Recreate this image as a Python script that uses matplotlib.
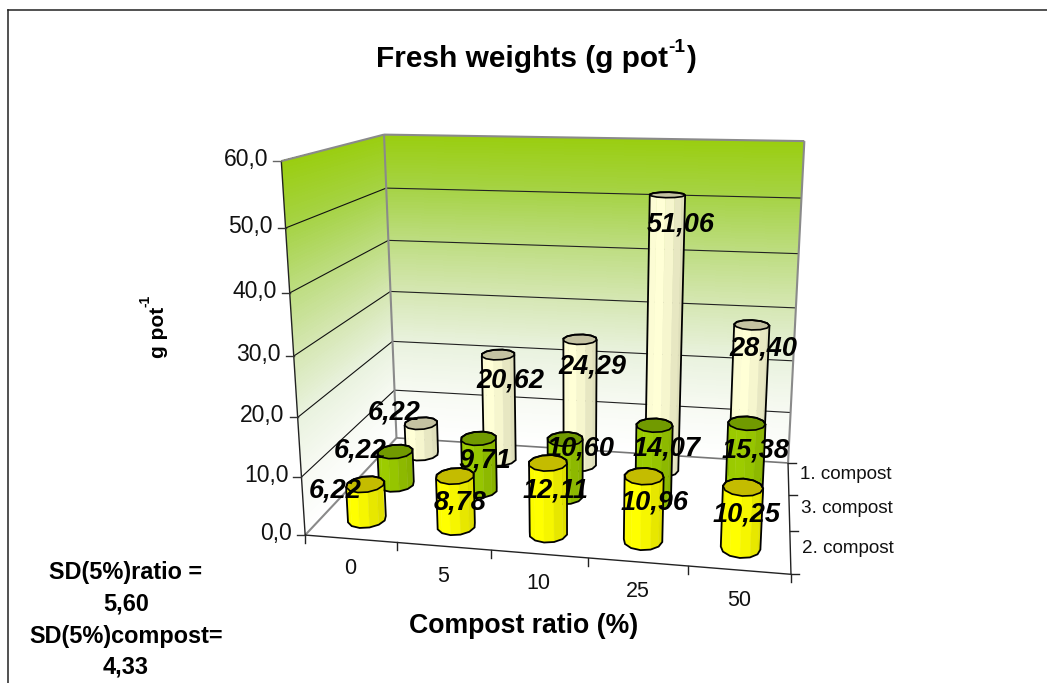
import numpy as np
import matplotlib
matplotlib.use('Agg')
import matplotlib.pyplot as plt
from matplotlib.patches import Polygon

plt.rcParams['font.family'] = ['Liberation Sans', 'DejaVu Sans']

# ----------------------------
# Data
# ----------------------------
ratios = ['0', '5', '10', '25', '50']
series_names = ['2. compost', '3. compost', '1. compost']  # front to back
compost_2 = [6.22, 8.78, 12.11, 10.96, 10.25]
compost_3 = [6.22, 9.71, 10.60, 14.07, 15.38]
compost_1 = [6.22, 20.62, 24.29, 51.06, 28.40]
value_ticks = [0, 10, 20, 30, 40, 50, 60]

# ----------------------------
# Style / layout
# ----------------------------
SIDE_COLORS = [(1.0, 1.0, 0.0), (0.61, 0.80, 0.0), (1.0, 1.0, 0.84)]
TOP_COLORS = ['#c4bc00', '#719a00', '#c4c2a2']
LABEL_POS = [
    [(335, 490), (460, 502), (556, 490), (655, 503), (747, 514)],
    [(360, 451), (485, 461), (581, 449), (667, 449), (756, 451)],
    [(394, 412), (510, 380), (592, 367), (681, 224), (763, 348)],
]
WALL_W = [0, 10, 20, 30, 40, 50, 60]
WALL_RGB = np.array([(255, 255, 255), (247, 250, 243), (233, 242, 222), (214, 231, 180),
                     (190, 221, 130), (166, 211, 70), (154, 206, 16)]) / 255.0
EDGE_GRAY = '#8a8a8a'
RADIUS_U = 0.2
RADIUS_V = 0.23
N_SIDES = 12

# Frame corners: (ratio, series, value) -> pixel
CORNERS = [
    ((0, 0, 0), (305.7, 535.7)), ((0, 0, 60), (281.0, 160.7)),
    ((0, 3, 0), (396.0, 437.3)), ((0, 3, 60), (384.3, 135.0)),
    ((5, 3, 0), (788.3, 463.3)), ((5, 3, 60), (804.3, 141.0)),
    ((5, 0, 0), (790.7, 574.0)),
]


def fit_camera():
    rows = []
    for (u, v, w), (x, y) in CORNERS:
        rows.append([u, v, w, 1, 0, 0, 0, 0, -x * u, -x * v, -x * w, -x])
        rows.append([0, 0, 0, 0, u, v, w, 1, -y * u, -y * v, -y * w, -y])
    return np.linalg.svd(np.array(rows, dtype=float))[2][-1].reshape(3, 4)


CAM = fit_camera()


def project(u, v, w):
    u, v, w = np.broadcast_arrays(np.asarray(u, float), np.asarray(v, float), np.asarray(w, float))
    p = np.stack([u, v, w, np.ones_like(u)], axis=-1) @ CAM.T
    return p[..., 0] / p[..., 2], p[..., 1] / p[..., 2]


def line3d(ax, a, b, **kw):
    xs, ys = project([a[0], b[0]], [a[1], b[1]], [a[2], b[2]])
    ax.plot(xs, ys, solid_capstyle='butt', **kw)


def hull(points):
    pts = sorted(set(map(tuple, points)))

    def half(seq):
        out = []
        for p in seq:
            while len(out) > 1 and ((out[-1][0] - out[-2][0]) * (p[1] - out[-2][1])
                                    - (out[-1][1] - out[-2][1]) * (p[0] - out[-2][0])) <= 0:
                out.pop()
            out.append(p)
        return out[:-1]

    return half(pts) + half(pts[::-1])


# ----------------------------
# Walls
# ----------------------------
def draw_wall(ax, uu, vv):
    ws = np.linspace(0, 60, 121)
    a = np.linspace(0, 1, 2)
    A, W = np.meshgrid(a, ws)
    X, Y = project(uu[0] + (uu[1] - uu[0]) * A, vv[0] + (vv[1] - vv[0]) * A, W)
    mid = (ws[:-1] + ws[1:]) / 2
    rgb = np.stack([np.interp(mid, WALL_W, WALL_RGB[:, i]) for i in range(3)], axis=-1)[:, None, :]
    ax.pcolormesh(X, Y, rgb, shading='flat', zorder=1)


def draw_frame(ax):
    draw_wall(ax, (0, 0), (0, 3))
    draw_wall(ax, (0, 5), (3, 3))

    for w in value_ticks[1:-1]:
        line3d(ax, (0, 0, w), (0, 3, w), color='#111111', lw=0.8, zorder=2)
        line3d(ax, (0, 3, w), (5, 3, w), color='#222222', lw=0.8, zorder=2)

    gray = dict(color=EDGE_GRAY, lw=1.5, zorder=3)
    line3d(ax, (0, 0, 60), (0, 3, 60), **gray)
    line3d(ax, (0, 3, 60), (5, 3, 60), **gray)
    line3d(ax, (5, 3, 60), (5, 3, 0), **gray)
    line3d(ax, (0, 3, 60), (0, 3, 0), **gray)
    line3d(ax, (0, 0, 0), (0, 3, 0), **gray)
    line3d(ax, (0, 3, 0), (5, 3, 0), color='#777777', lw=1.2, zorder=3)

    # value axis
    line3d(ax, (0, 0, 0), (0, 0, 60), color='#222222', lw=1.0, zorder=3)
    for w in value_ticks:
        x, y = project(0, 0, w)
        ax.plot([x - 8, x], [y, y], color='#666666' if w == 60 else '#333333', lw=1.0, zorder=3)
        ax.text(x - 13, y - 1.5, f'{w:.1f}'.replace('.', ','), ha='right', va='center',
                fontsize=16.5, color='#111111')

    # category axis
    line3d(ax, (0, 0, 0), (5, 0, 0), color='#222222', lw=1.0, zorder=3)
    for u in range(6):
        x, y = project(u, 0, 0)
        ax.plot([x, x], [y, y + 8], color='#222222', lw=1.0, zorder=3)
    for i, name in enumerate(ratios):
        x, y = project(i + 0.5, 0, 0)
        ax.text(x, y + 30, name, ha='center', va='center', fontsize=15.5, color='#111111')

    # series axis
    line3d(ax, (5, 0, 0), (5, 3, 0), color='#222222', lw=1.0, zorder=3)
    for v in range(4):
        x, y = project(5, v, 0)
        ax.plot([x, x + 8], [y, y], color='#222222', lw=1.0, zorder=3)
    for i, name in enumerate(series_names):
        x, y = project(5, i + 0.5, 0)
        ax.text(x + 12, y - 3.5, name, ha='left', va='center', fontsize=13.6, color='#111111')


# ----------------------------
# Cylinders
# ----------------------------
def draw_cylinder(ax, u0, v0, value, side, top, zorder):
    th = np.linspace(0, 2 * np.pi, N_SIDES + 1)
    cu = u0 + RADIUS_U * np.cos(th)
    cv = v0 + RADIUS_V * np.sin(th)
    bx, by = project(cu, cv, 0)
    tx, ty = project(cu, cv, value)

    # only the front half (toward the viewer) is visible
    for i in range(N_SIDES):
        mid = (th[i] + th[i + 1]) / 2
        if np.sin(mid) > 0.05:
            continue
        t = (np.cos(mid) + 1) / 2
        shade = np.interp(t, [0, 0.2, 0.5, 0.75, 1], [0.96, 1.0, 1.0, 0.93, 0.87])
        quad = [(bx[i], by[i]), (bx[i + 1], by[i + 1]), (tx[i + 1], ty[i + 1]), (tx[i], ty[i])]
        ax.add_patch(Polygon(quad, closed=True, facecolor=np.array(side) * shade,
                             edgecolor=np.array(side) * shade, lw=0.3, zorder=zorder))

    ax.add_patch(Polygon(np.c_[tx, ty], closed=True, facecolor=top, edgecolor='black', lw=1.2,
                         zorder=zorder + 0.1))
    outline = hull(np.r_[np.c_[bx, by], np.c_[tx, ty]])
    ax.add_patch(Polygon(outline, closed=True, fill=False, edgecolor='black', lw=1.3,
                         zorder=zorder + 0.2))


# ----------------------------
# Main
# ----------------------------
def main():
    fig = plt.figure(figsize=(10.47, 6.83), dpi=100)
    ax = fig.add_axes([0, 0, 1, 1])
    ax.set_xlim(0, 1047)
    ax.set_ylim(683, 0)
    ax.axis('off')

    ax.plot([8, 8], [683, 9.5], color='#222222', lw=1.1)
    ax.plot([8, 1047], [9.5, 9.5], color='#222222', lw=1.1)

    draw_frame(ax)

    all_series = [compost_2, compost_3, compost_1]
    for s in range(2, -1, -1):
        for c, val in enumerate(all_series[s]):
            draw_cylinder(ax, c + 0.5, s + 0.5, val, SIDE_COLORS[s], TOP_COLORS[s], 10 + (2 - s))

    for s, vals in enumerate(all_series):
        for c, val in enumerate(vals):
            x, y = LABEL_POS[s][c]
            ax.text(x, y, f'{val:.2f}'.replace('.', ','), ha='center', va='center', fontsize=19.5,
                    fontweight='bold', fontstyle='italic', color='black', zorder=20)

    # title pieces, the exponent is a separate hyphenated text
    ax.text(376, 59, 'Fresh weights (g pot', ha='left', va='center', fontsize=21.5, fontweight='bold')
    ax.text(668, 47, '-1', ha='left', va='center', fontsize=13.8, fontweight='bold')
    ax.text(686, 59, ')', ha='left', va='center', fontsize=21.5, fontweight='bold')

    ax.text(158, 332, 'g pot', rotation=90, ha='center', va='center', fontsize=15, fontweight='bold')
    ax.text(145, 301, '-1', rotation=90, ha='center', va='center', fontsize=10, fontweight='bold')

    ax.text(524, 626, 'Compost ratio (%)', ha='center', va='center', fontsize=19.2, fontweight='bold')

    for y, line in zip([572, 604, 636, 667], ['SD(5%)ratio =', '5,60', 'SD(5%)compost=', '4,33']):
        ax.text(126, y, line, ha='center', va='center', fontsize=16.9, fontweight='bold')

    fig.savefig('out.png', dpi=100)
    plt.close(fig)


if __name__ == '__main__':
    main()
